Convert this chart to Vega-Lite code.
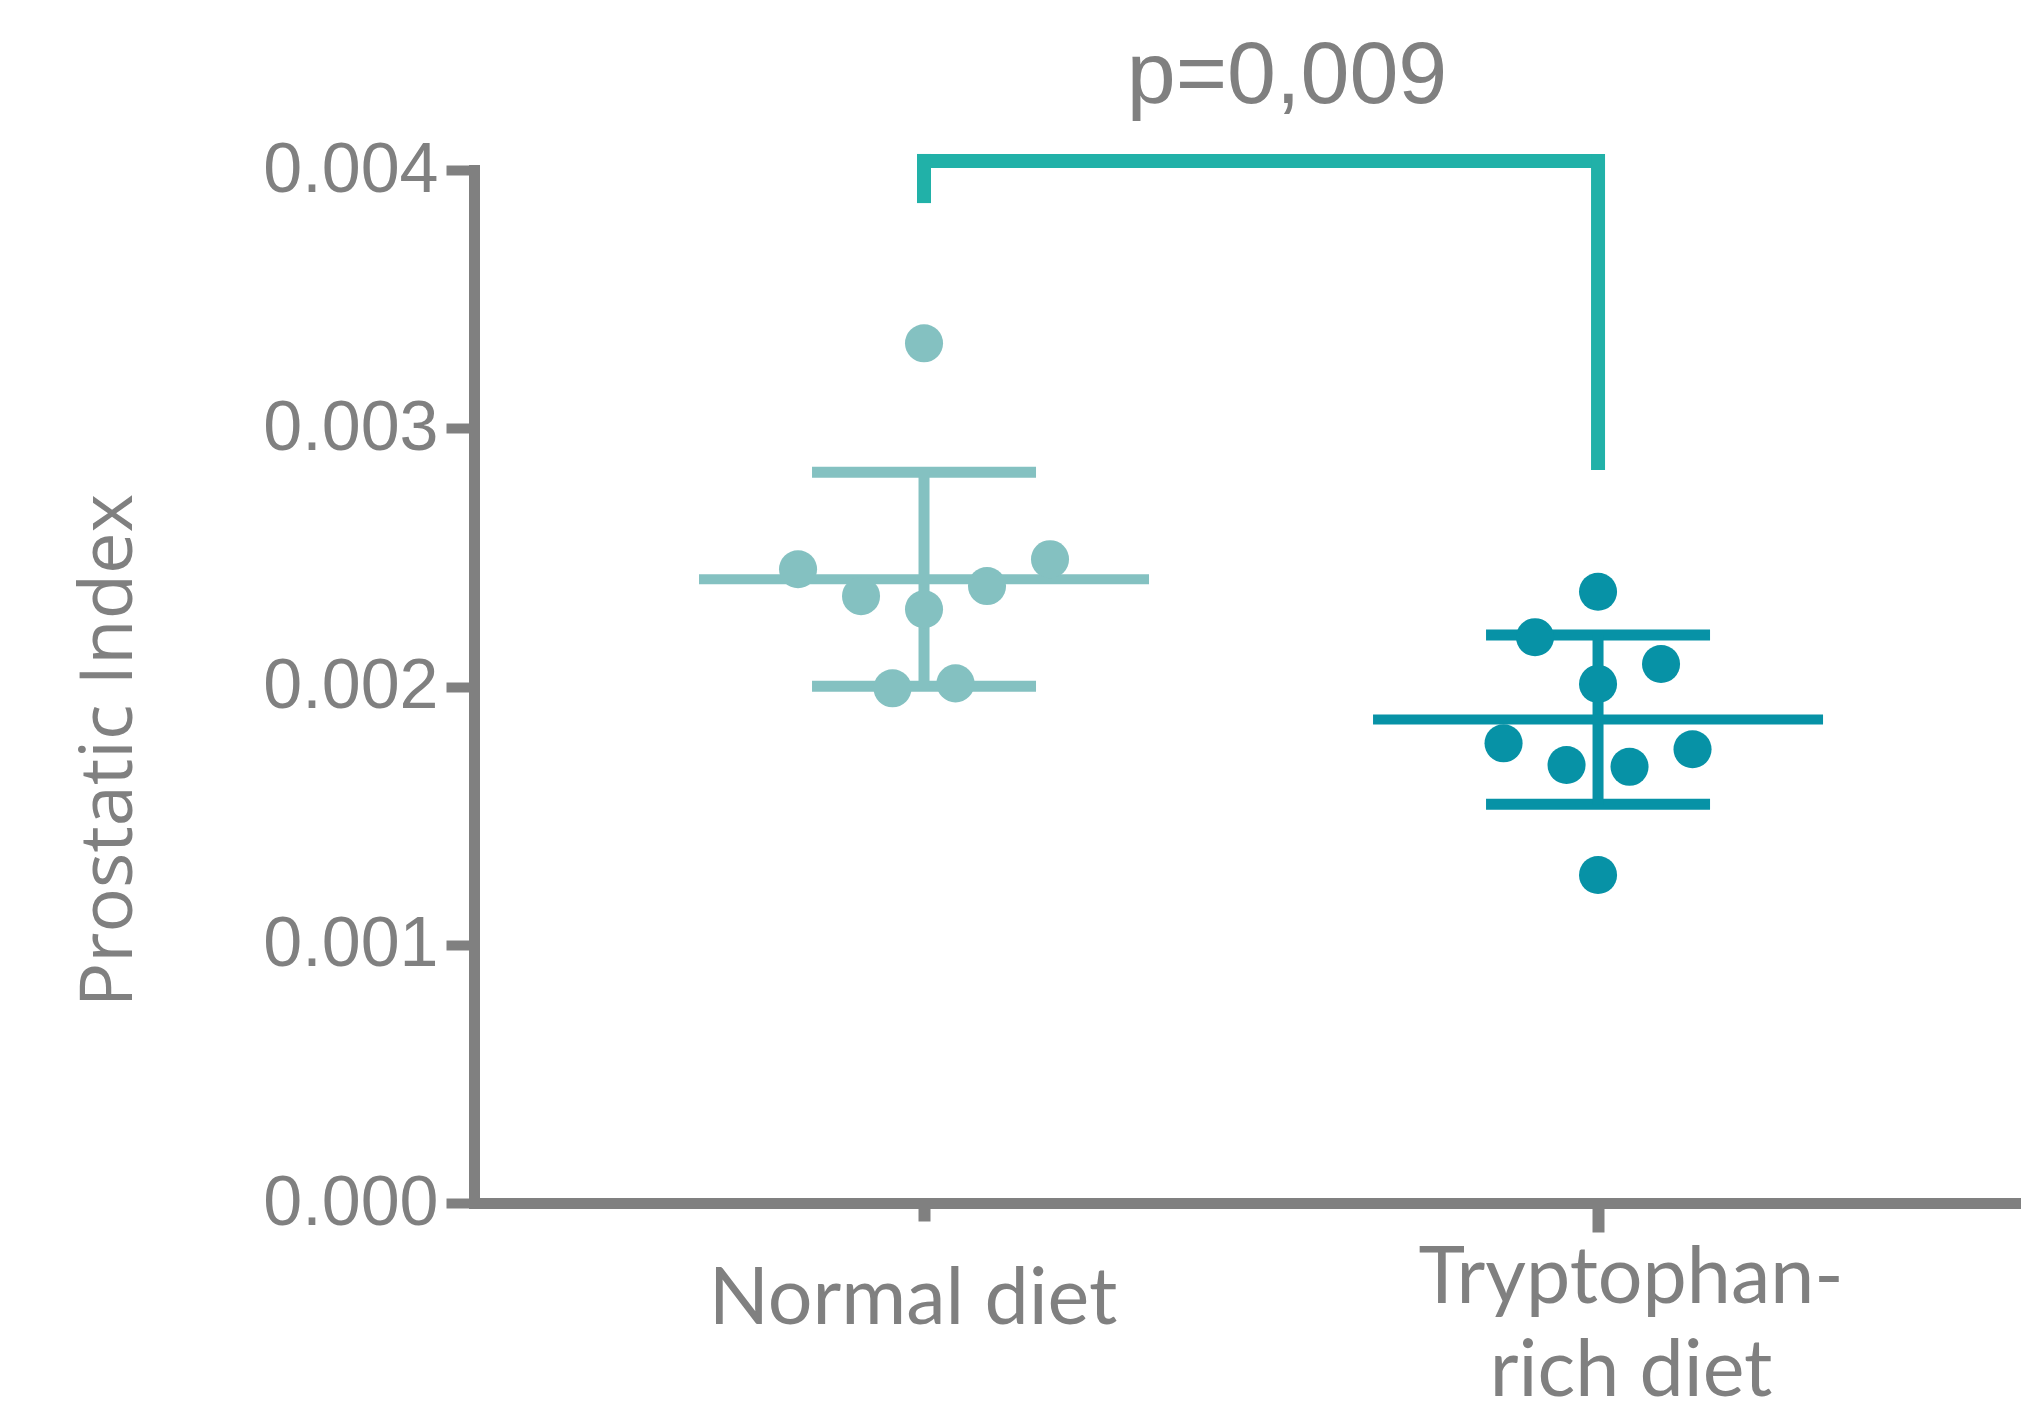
{
  "$schema": "https://vega.github.io/schema/vega-lite/v6.json",
  "width": 1547,
  "height": 1033,
  "autosize": {"type": "none"},
  "padding": {"left": 474, "top": 170, "right": 0, "bottom": 210},
  "background": "white",
  "config": {"view": {"stroke": null}},
  "datasets": {
    "points": [
      {"group": "Normal diet", "index": 0.003329, "jitter": 0},
      {"group": "Normal diet", "index": 0.002454, "jitter": -2},
      {"group": "Normal diet", "index": 0.002350, "jitter": -1},
      {"group": "Normal diet", "index": 0.002299, "jitter": 0},
      {"group": "Normal diet", "index": 0.002389, "jitter": 1},
      {"group": "Normal diet", "index": 0.002493, "jitter": 2},
      {"group": "Normal diet", "index": 0.001993, "jitter": -0.5},
      {"group": "Normal diet", "index": 0.002012, "jitter": 0.5},
      {"group": "Tryptophan-rich diet", "index": 0.002367, "jitter": 0},
      {"group": "Tryptophan-rich diet", "index": 0.002191, "jitter": -1},
      {"group": "Tryptophan-rich diet", "index": 0.002087, "jitter": 1},
      {"group": "Tryptophan-rich diet", "index": 0.002010, "jitter": 0},
      {"group": "Tryptophan-rich diet", "index": 0.001780, "jitter": -1.5},
      {"group": "Tryptophan-rich diet", "index": 0.001696, "jitter": -0.5},
      {"group": "Tryptophan-rich diet", "index": 0.001689, "jitter": 0.5},
      {"group": "Tryptophan-rich diet", "index": 0.001757, "jitter": 1.5},
      {"group": "Tryptophan-rich diet", "index": 0.001270, "jitter": 0}
    ],
    "bracketTop": [
      {"from": "Normal diet", "to": "Tryptophan-rich diet", "y": 0.004035}
    ],
    "bracketLegs": [
      {"group": "Normal diet", "top": 0.004035, "bottom": 0.003899},
      {"group": "Tryptophan-rich diet", "top": 0.004035, "bottom": 0.002865}
    ],
    "label": [
      {"group": "Normal diet", "y": 0.004259, "text": "p=0,009"}
    ]
  },
  "layer": [
    {
      "data": {"name": "points"},
      "mark": {
        "type": "errorbar",
        "extent": "stdev",
        "opacity": 1,
        "ticks": {"size": 224, "thickness": 11, "opacity": 1},
        "rule": {"strokeWidth": 11, "opacity": 1}
      },
      "encoding": {
        "x": {
          "field": "group", "type": "nominal",
          "scale": {"domain": ["Normal diet", "Tryptophan-rich diet"], "paddingInner": 0, "paddingOuter": 0.1476, "align": 0.568},
          "axis": {
            "title": null,
            "labelAngle": 0,
            "domainColor": "#808080",
            "domainWidth": 11,
            "domainCap": "square",
            "tickColor": "#808080",
            "tickWidth": 12,
            "tickSize": {"condition": {"test": "datum.value === 'Normal diet'", "value": 18}, "value": 29},
            "labelFont": "Lato",
            "labelFontSize": 79,
            "labelColor": "#808080",
            "labelLineHeight": 93,
            "labelPadding": {"condition": {"test": "datum.value === 'Normal diet'", "value": 40}, "value": 8},
            "labelOffset": {"condition": {"test": "datum.value === 'Normal diet'", "value": -11}, "value": 33},
            "labelExpr": "datum.value === 'Tryptophan-rich diet' ? ['Tryptophan-', 'rich diet'] : datum.label",
            "labelLimit": 0,
            "labelOverlap": false
          }
        },
        "y": {
          "field": "index", "type": "quantitative",
          "scale": {"domain": [0, 0.004], "nice": false, "zero": false},
          "axis": {
            "values": [0, 0.001, 0.002, 0.003, 0.004],
            "format": ".3f",
            "grid": false,
            "domainColor": "#808080",
            "domainWidth": 11,
            "domainCap": "square",
            "tickColor": "#808080",
            "tickWidth": 10,
            "tickSize": 28,
            "labelFont": "Liberation Sans",
            "labelFontSize": 70,
            "labelColor": "#808080",
            "labelPadding": 8,
            "title": "Prostatic Index",
            "titleFont": "Open Sans",
            "titleFontSize": 74,
            "titleFontWeight": "normal",
            "titleColor": "#808080",
            "titleAngle": 270,
            "titleX": -343,
            "titleY": 580,
            "titleAlign": "center",
            "titleBaseline": "alphabetic"
          }
        },
        "color": {
          "field": "group", "type": "nominal",
          "scale": {"domain": ["Normal diet", "Tryptophan-rich diet"], "range": ["#84c1c1", "#0792a6"]},
          "legend": null
        }
      }
    },
    {
      "data": {"name": "points"},
      "mark": {"type": "tick", "size": 450, "thickness": 10, "opacity": 1},
      "encoding": {
        "x": {"field": "group", "type": "nominal"},
        "y": {"aggregate": "mean", "field": "index", "type": "quantitative", "scale": {"domain": [0, 0.004], "nice": false, "zero": false}},
        "color": {"field": "group", "type": "nominal", "legend": null}
      }
    },
    {
      "data": {"name": "points"},
      "mark": {"type": "circle", "size": 1450, "opacity": 1},
      "encoding": {
        "x": {"field": "group", "type": "nominal"},
        "xOffset": {"field": "jitter", "type": "quantitative", "scale": {"domain": [-5.35, 5.35]}},
        "y": {"field": "index", "type": "quantitative", "scale": {"domain": [0, 0.004], "nice": false, "zero": false}},
        "color": {"field": "group", "type": "nominal", "legend": null}
      }
    },
    {
      "data": {"name": "bracketTop"},
      "mark": {"type": "rule", "color": "#21b1a8", "strokeWidth": 14, "strokeCap": "square", "xOffset": 6, "x2Offset": -2},
      "encoding": {
        "x": {"field": "from", "type": "nominal"},
        "x2": {"field": "to"},
        "y": {"field": "y", "type": "quantitative", "scale": {"domain": [0, 0.004], "nice": false, "zero": false}}
      }
    },
    {
      "data": {"name": "bracketLegs"},
      "mark": {"type": "rule", "color": "#21b1a8", "strokeWidth": 14, "strokeCap": "square"},
      "encoding": {
        "x": {"field": "group", "type": "nominal"},
        "y": {"field": "top", "type": "quantitative", "scale": {"domain": [0, 0.004], "nice": false, "zero": false}},
        "y2": {"field": "bottom"}
      }
    },
    {
      "data": {"name": "label"},
      "mark": {"type": "text", "font": "Liberation Sans", "fontSize": 88, "color": "#808080", "align": "center", "baseline": "alphabetic", "dx": 363},
      "encoding": {
        "x": {"field": "group", "type": "nominal"},
        "y": {"field": "y", "type": "quantitative", "scale": {"domain": [0, 0.004], "nice": false, "zero": false}},
        "text": {"field": "text"}
      }
    }
  ]
}
